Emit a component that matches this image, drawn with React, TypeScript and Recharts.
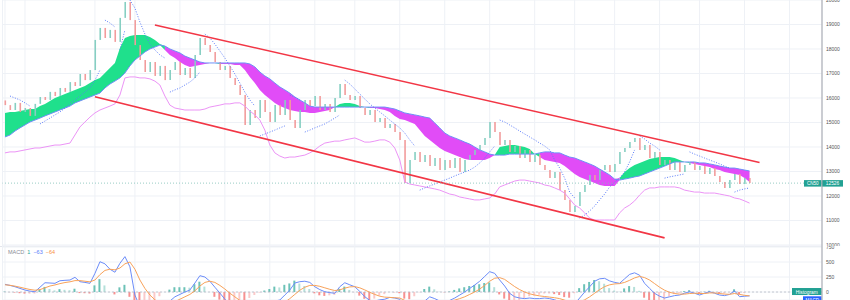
import React from 'react';
import { ComposedChart, Bar, Line, Area, XAxis, YAxis, CartesianGrid, ReferenceLine, Cell } from 'recharts';

// ---------- price pane data (one value per session, left to right) ----------
const closes = [
  15710, 15510, 15800, 15430, 15590, 15270, 15760, 16040, 15920, 16250,
  16080, 16410, 16250, 16650, 16490, 16980, 16730, 17140, 18370, 18860,
  18450, 18780, 18290, 19270, 19920, 19180, 18160, 17550, 17060, 17470,
  16900, 17310, 16730, 17140, 17470, 16940, 17220, 16820, 17760, 18450,
  18160, 17880, 17470, 17140, 17310, 16820, 16530, 16120, 14900, 15510,
  15180, 15920, 15430, 15020, 15710, 15310, 15920, 15100, 14780, 15510,
  15920, 15670, 16080, 15510, 15760, 15430, 16000, 16570, 16120, 15920,
  16080, 15590, 15310, 15510, 15020, 15180, 14780, 14940, 14610, 14290,
  12530, 13470, 13800, 13390, 13670, 13220, 13550, 13060, 13470, 13140,
  13550, 12980, 13470, 13670, 13880, 14080, 14370, 15020, 14610, 14080,
  14290, 13800, 14040, 13550, 13880, 13390, 13670, 13270, 13060, 12730,
  12980, 12240, 11840, 11350, 11590, 12160, 12450, 12860, 12650, 13060,
  13270, 12980, 13310, 13800, 13960, 14200, 14370, 13880, 14080, 13550,
  13800, 13270, 13470, 13060, 13390, 12980, 13270, 13390, 13060, 13220,
  12900, 13140, 12820, 12570, 12330, 12650, 12900, 12490, 12730, 12526,
];
const firstOpen = 15900;

const cloudA = [
  15390, 15430, 15430, 15470, 15510, 15550, 15550, 15670, 15760, 15880,
  16000, 16080, 16160, 16240, 16330, 16410, 16490, 16610, 16730, 16820,
  17020, 17220, 17430, 18040, 18450, 18530, 18570, 18570, 18570, 18490,
  18370, 18200, 17960, 17760, 17630, 17470, 17350, 17270, 17310, 17350,
  17390, 17430, 17430, 17390, 17390, 17390, 17350, 17350, 17140, 16860,
  16610, 16330, 16120, 15960, 15800, 15670, 15590, 15510, 15470, 15430,
  15430, 15390, 15390, 15430, 15470, 15510, 15630, 15760, 15800, 15800,
  15760, 15670, 15630, 15590, 15590, 15550, 15510, 15430, 15270, 15140,
  15100, 15020, 14940, 14690, 14450, 14290, 14120, 13960, 13840, 13760,
  13670, 13590, 13510, 13470, 13470, 13470, 13470, 13550, 13670, 14000,
  14040, 14080, 14080, 14040, 14000, 13920, 13710, 13590, 13470, 13430,
  13390, 13350, 13220, 13060, 12900, 12780, 12690, 12610, 12530, 12450,
  12410, 12410, 12410, 12730, 12980, 13140, 13270, 13350, 13430, 13510,
  13550, 13590, 13590, 13590, 13550, 13470, 13390, 13350, 13310, 13270,
  13220, 13180, 13100, 13060, 12980, 12940, 12900, 12860, 12730, 12570,
];

const cloudB = [
  14410, 14490, 14650, 14780, 14900, 15020, 15100, 15180, 15270, 15350,
  15430, 15510, 15590, 15670, 15800, 15880, 15960, 16040, 16120, 16200,
  16410, 16570, 16690, 16820, 17020, 17310, 17550, 17710, 17880, 18000,
  18080, 18160, 18120, 18000, 17920, 17840, 17710, 17630, 17550, 17470,
  17430, 17430, 17430, 17430, 17430, 17430, 17430, 17430, 17430, 17390,
  17270, 17060, 16900, 16780, 16610, 16450, 16330, 16200, 16040, 15920,
  15800, 15670, 15630, 15630, 15630, 15630, 15630, 15630, 15630, 15630,
  15630, 15630, 15630, 15630, 15630, 15630, 15630, 15590, 15550, 15470,
  15390, 15350, 15310, 15270, 15220, 15180, 14980, 14780, 14570, 14450,
  14370, 14290, 14200, 14120, 14000, 13880, 13800, 13710, 13670, 13670,
  13670, 13710, 13710, 13710, 13710, 13710, 13710, 13760, 13800, 13800,
  13760, 13760, 13670, 13590, 13550, 13470, 13390, 13310, 13220, 13100,
  12980, 12860, 12690, 12650, 12690, 12730, 12780, 12820, 12900, 12980,
  13060, 13140, 13220, 13310, 13390, 13390, 13390, 13390, 13390, 13350,
  13350, 13310, 13270, 13220, 13180, 13140, 13140, 13100, 13060, 13020,
];

const lowerBand = [
  13760, 13800, 13800, 13840, 13880, 13920, 13960, 13960, 14000, 14040,
  14080, 14080, 14120, 14160, 14490, 14820, 15020, 15220, 15390, 15510,
  15590, 15670, 15760, 16120, 16820, 16860, 16860, 16820, 16820, 16780,
  16690, 16530, 16080, 15710, 15590, 15550, 15510, 15510, 15510, 15510,
  15550, 15630, 15670, 15710, 15760, 15760, 15800, 15800, 15670, 15470,
  15310, 15100, 14690, 14080, 13760, 13630, 13550, 13590, 13590, 13630,
  13670, 13760, 13880, 14040, 14160, 14200, 14240, 14240, 14290, 14330,
  14370, 14290, 14200, 14200, 14240, 14290, 14290, 14200, 13960, 13470,
  12570, 12490, 12450, 12410, 12370, 12330, 12290, 12240, 12160, 12080,
  12040, 11960, 11920, 11880, 11840, 11840, 11880, 11920, 12080, 12370,
  12450, 12530, 12610, 12650, 12650, 12610, 12570, 12530, 12450, 12410,
  12330, 12240, 12120, 11880, 11630, 11510, 11310, 11100, 11020, 11020,
  11020, 11020, 11020, 11310, 11510, 11630, 11800, 12040, 12240, 12330,
  12330, 12370, 12370, 12370, 12370, 12330, 12240, 12200, 12160, 12160,
  12120, 12120, 12120, 12080, 12040, 12000, 11920, 11880, 11800, 11710,
];

// parabolic SAR runs: [first session index, values]
const sarAboveRuns: [number, number[]][] = [
  [1, [16080, 16000, 15920, 15800, 15670]],
  [20, [19180, 19060, 18900]],
  [25, [20000, 19670, 19100, 18610, 18200, 17960, 17760, 17630]],
  [40, [18610, 18450, 18200, 17920, 17630, 17310, 16980, 16610, 16240, 15920, 15670]],
  [57, [16120, 16040, 15920]],
  [68, [16730, 16570, 16370, 16160, 15960, 15760, 15590, 15430, 15270, 15100, 14940, 14780, 14570, 14290, 14040]],
  [99, [15100, 15020, 14900, 14780, 14650, 14530, 14410, 14290, 14160, 14040, 13880, 13470, 13140, 12730, 12160, 11920]],
  [127, [14450, 14330, 14160, 14040, 13880]],
  [137, [13800, 13710, 13630, 13550, 13470, 13390, 13310, 13220, 13140]],
];
const sarBelowRuns: [number, number[]][] = [
  [7, [14940, 15060, 15180, 15310, 15430, 15590, 15760, 15920, 16080, 16240, 16410, 16730, 17140]],
  [23, [17960, 18780]],
  [33, [16240, 16330, 16410, 16530, 16650, 16820, 17060]],
  [51, [14450, 14530, 14610, 14690, 14780, 14860]],
  [60, [14610, 14690, 14780, 14860, 14940, 15060, 15180, 15310]],
  [83, [12240, 12330, 12410, 12490, 12570, 12650, 12730, 12820, 12900, 12980, 13060, 13180, 13350, 13550, 13800, 14040]],
  [115, [11100, 11220, 11390, 11590, 11840, 12080, 12370, 12570, 12730, 12980, 13390, 13880]],
  [132, [12730, 12780, 12820, 12860, 12900]],
  [146, [12160, 12240, 12290, 12330]],
];

// channel lines: [session index, price]
const channelTop: [number, number][] = [[30, 18980], [151, 13370]];
const channelBottom: [number, number][] = [[18, 16050], [132, 10290]];

const lastPrice = 12526;
const symbol = 'CN50';

// ---------- MACD pane data ----------
const macdLine = [
  128, 110, 88, 60, 33, 15, 5, 80, 155, 150,
  145, 188, 195, 200, 245, 172, 160, 145, 311, 505,
  470, 380, 330, 478, 590, 420, -50, -250, -300, -300,
  -280, -250, -200, -150, -80, -40, 0, 33, 150, 272,
  250, 180, 80, -17, -120, -200, -250, -280, -350, -350,
  -330, -300, -260, -220, -150, -133, -50, 33, 150, 172,
  180, 160, 88, 40, 5, -10, -22, 88, 155, 120,
  88, 10, -78, -140, -150, -130, -120, -90, -100, -120,
  -250, -300, -280, -220, -150, -80, -110, -150, -160, -140,
  -100, -50, 0, 60, 117, 180, 260, 339, 311, 200,
  100, -22, -80, -100, -110, -100, -110, -110, -100, -110,
  -130, -160, -220, -260, -200, -100, 0, 88, 180, 220,
  228, 185, 160, 145, 220, 294, 320, 280, 145, 60,
  -22, -70, -100, -80, -60, -50, -20, 5, -20, -50,
  -20, 5, -20, -50, -60, -40, 20, -78, -70, -63,
];
const signalLine = [
  120, 112, 98, 80, 60, 42, 30, 40, 70, 100,
  118, 140, 158, 170, 190, 190, 180, 170, 200, 290,
  360, 380, 370, 400, 470, 500, 380, 200, 60, -50,
  -130, -180, -200, -190, -160, -120, -80, -40, 20, 100,
  160, 180, 160, 110, 50, -20, -80, -140, -200, -250,
  -280, -290, -285, -270, -240, -210, -170, -110, -40, 30,
  80, 110, 110, 95, 70, 45, 25, 35, 65, 85,
  90, 70, 35, -5, -40, -70, -85, -90, -95, -100,
  -140, -180, -210, -215, -200, -170, -155, -155, -155, -150,
  -135, -110, -80, -40, 0, 50, 110, 180, 230, 240,
  210, 150, 90, 40, 0, -30, -50, -65, -75, -85,
  -95, -110, -135, -165, -180, -165, -130, -80, -20, 40,
  90, 120, 135, 140, 160, 195, 235, 260, 240, 200,
  140, 80, 30, -5, -25, -35, -35, -25, -20, -25,
  -25, -15, -15, -25, -35, -38, -25, -40, -55, -64,
];
const histogram = [
  8, -2, -10, -20, -27, -27, -25, 40, 85, 50,
  27, 48, 37, 30, 55, -18, -20, -25, 111, 215,
  110, 0, -40, 78, 120, -80, -430, -450, -360, -250,
  -150, -70, 0, 40, 80, 80, 80, 73, 130, 172,
  90, 0, -80, -127, -170, -180, -170, -140, -150, -100,
  -50, -10, 25, 50, 90, 77, 120, 143, 190, 142,
  100, 50, -22, -55, -65, -55, -47, 53, 90, 35,
  -2, -60, -113, -135, -110, -60, -35, 0, -5, -20,
  -110, -120, -70, -5, 50, 90, 45, 5, -5, 10,
  35, 60, 80, 100, 117, 130, 150, 159, 81, -40,
  -110, -172, -170, -140, -110, -70, -60, -45, -25, -25,
  -35, -50, -85, -95, -20, 65, 130, 168, 200, 180,
  138, 65, 25, 5, 60, 99, 85, 20, -95, -140,
  -162, -150, -130, -75, -35, -15, 15, 30, 0, -25,
  5, 20, -5, -25, -25, -2, 45, -38, -15, 1,
];

// ---------- axis ticks ----------
const priceTicks = [10000, 11000, 12000, 13000, 14000, 15000, 16000, 17000, 18000, 19000, 20000];
const macdTicks = [0, 250, 500, 750];
const gridSessions = [0, 4, 18, 26, 35, 44, 53, 62, 70, 79, 88, 97, 106, 114, 122, 131, 139, 148, 157];
const TOTAL_SLOTS = 164;

// ---------- build tables ----------
const fill = (runs: [number, number[]][]) => {
  const out: (number | null)[] = new Array(TOTAL_SLOTS).fill(null);
  runs.forEach(([s, vals]) => vals.forEach((v, k) => { out[s + k] = v; }));
  return out;
};
const sarAbove = fill(sarAboveRuns);
const sarBelow = fill(sarBelowRuns);
const fromPoints = (pts: [number, number][]) => {
  const out: (number | null)[] = new Array(TOTAL_SLOTS).fill(null);
  pts.forEach(([i, v]) => { out[i] = v; });
  return out;
};
const topLine = fromPoints(channelTop);
const botLine = fromPoints(channelBottom);

const n = closes.length;
const greenAt = (i: number) => cloudA[i] >= cloudB[i];

const priceRows = Array.from({ length: TOTAL_SLOTS }, (_, i) => {
  const has = i < n;
  const open = i === 0 ? firstOpen : closes[i - 1];
  const close = closes[i];
  const g = has && (greenAt(i) || (i > 0 && greenAt(i - 1)));
  const m = has && (!greenAt(i) || (i > 0 && !greenAt(i - 1)));
  const lo = has ? Math.min(cloudA[i], cloudB[i]) : 0;
  const hi = has ? Math.max(cloudA[i], cloudB[i]) : 0;
  return {
    i,
    body: has ? [Math.min(open, close), Math.max(open, close)] : null,
    up: has ? close >= open : true,
    green: g ? [lo, hi] : null,
    magenta: m ? [lo, hi] : null,
    spanB: has ? cloudB[i] : null,
    band: has ? lowerBand[i] : null,
    sarA: sarAbove[i],
    sarB: sarBelow[i],
    top: topLine[i],
    bot: botLine[i],
  };
});

const macdRows = Array.from({ length: TOTAL_SLOTS }, (_, i) => {
  const has = i < n;
  const h = has ? histogram[i] : null;
  const prev = i > 0 ? histogram[i - 1] : 0;
  let color = '#26a69a';
  if (h !== null) {
    if (h >= 0) color = h >= prev ? '#6cc2b7' : '#b5e0da';
    else color = h < prev ? '#f79191' : '#fbcaca';
  }
  return {
    i,
    hist: h,
    color,
    macd: has ? macdLine[i] : null,
    signal: has ? signalLine[i] : null,
  };
});

const FONT = '"Liberation Sans", Arial, sans-serif';
const tickStyle = { fontSize: 5, fill: '#555', fontFamily: FONT };

const PriceTag = (props: any) => {
  const vb = props.viewBox || {};
  const right = (vb.x || 0) + (vb.width || 0);
  const y = vb.y || 0;
  return (
    <g>
      <rect x={right - 18} y={y - 3} width={17.5} height={6.5} fill="#22a193" />
      <text x={right - 9.25} y={y + 1.9} fontSize={4.6} fill="#fff" textAnchor="middle" fontFamily={FONT}>{symbol}</text>
      <rect x={right} y={y - 3} width={21} height={6.5} fill="#22a193" />
      <text x={right + 10.5} y={y + 1.9} fontSize={4.8} fill="#fff" textAnchor="middle" fontFamily={FONT}>{String(lastPrice)}</text>
    </g>
  );
};

const HistTag = (props: any) => {
  const vb = props.viewBox || {};
  const right = (vb.x || 0) + (vb.width || 0);
  const y = vb.y || 0;
  return (
    <g>
      <rect x={right - 30} y={y - 4} width={29.5} height={7} fill="#22a193" />
      <text x={right - 15.25} y={y + 1.6} fontSize={4.8} fill="#fff" textAnchor="middle" fontFamily={FONT}>Histogram</text>
    </g>
  );
};

const MacdTag = (props: any) => {
  const vb = props.viewBox || {};
  const right = (vb.x || 0) + (vb.width || 0);
  const y = (vb.y || 0) + 4;
  return (
    <g>
      <rect x={right - 19} y={y - 3.5} width={18.5} height={7} fill="#2962ff" />
      <text x={right - 9.75} y={y + 1.8} fontSize={4.6} fill="#fff" textAnchor="middle" fontFamily={FONT}>MACD</text>
    </g>
  );
};

export default function App() {
  return (
    <div style={{ position: 'absolute', left: 0, top: 0, width: 850, height: 300, background: '#fff', overflow: 'hidden', fontFamily: FONT }}>
      <div style={{ position: 'absolute', left: 0, top: 0 }}>
        <ComposedChart width={850} height={246} data={priceRows} margin={{ top: 0, right: 0, left: 2.5, bottom: 0 }}>
          <CartesianGrid stroke="#eef1f6" strokeWidth={1} />
          <XAxis dataKey="i" hide ticks={gridSessions} interval={0} />
          <YAxis orientation="right" width={28} domain={[9959, 20000]} allowDataOverflow ticks={priceTicks} interval={0}
            tick={tickStyle} tickLine={false} tickSize={0} tickMargin={4} axisLine={{ stroke: '#9ea1a9' }} />
          <Area dataKey="green" stroke="none" fill="#1fe08c" fillOpacity={1} isAnimationActive={false} connectNulls={false} activeDot={false} />
          <Area dataKey="magenta" stroke="none" fill="#e14cf7" fillOpacity={1} isAnimationActive={false} connectNulls={false} activeDot={false} />
          <Line dataKey="spanB" stroke="#6f8ff7" strokeWidth={1} dot={false} isAnimationActive={false} />
          <Line dataKey="band" stroke="#ec94f6" strokeWidth={1} dot={false} isAnimationActive={false} />
          <Bar dataKey="body" barSize={1.6} isAnimationActive={false}>
            {priceRows.map((r) => (
              <Cell key={r.i} fill={r.up ? '#86cfc2' : '#f29c9c'} />
            ))}
          </Bar>
          <Line dataKey="sarA" stroke="#5b7cfa" strokeWidth={1} strokeDasharray="1 1.6" dot={false} isAnimationActive={false} connectNulls={false} />
          <Line dataKey="sarB" stroke="#5b7cfa" strokeWidth={1} strokeDasharray="1 1.6" dot={false} isAnimationActive={false} connectNulls={false} />
          <Line dataKey="top" stroke="#f23645" strokeWidth={1.6} dot={false} connectNulls isAnimationActive={false} />
          <Line dataKey="bot" stroke="#f23645" strokeWidth={1.6} dot={false} connectNulls isAnimationActive={false} />
          <ReferenceLine y={lastPrice} stroke="#7fbfb5" strokeDasharray="1 2" strokeWidth={0.8} label={<PriceTag />} />
        </ComposedChart>
      </div>
      <div style={{ position: 'absolute', left: 0, top: 246, borderTop: '1px solid #e3e6ec', width: 822 }} />
      <div style={{ position: 'absolute', left: 0, top: 246 }}>
        <ComposedChart width={850} height={54} data={macdRows} margin={{ top: 0, right: 0, left: 2.5, bottom: 0 }}>
          <CartesianGrid stroke="#eef1f6" strokeWidth={1} />
          <XAxis dataKey="i" hide ticks={gridSessions} interval={0} />
          <YAxis orientation="right" width={28} domain={[-133, 767]} allowDataOverflow ticks={macdTicks} interval={0}
            tick={tickStyle} tickLine={false} tickSize={0} tickMargin={4} axisLine={{ stroke: '#9ea1a9' }} />
          <ReferenceLine y={0} stroke="#b8bcc6" strokeDasharray="2 2" strokeWidth={0.8} label={<HistTag />} />
          <Bar dataKey="hist" barSize={2} isAnimationActive={false}>
            {macdRows.map((r) => (
              <Cell key={r.i} fill={r.color} />
            ))}
          </Bar>
          <Line dataKey="macd" stroke="#6b8cf9" strokeWidth={1} dot={false} isAnimationActive={false} />
          <Line dataKey="signal" stroke="#f8a25a" strokeWidth={1} dot={false} isAnimationActive={false} />
          <ReferenceLine y={macdLine[macdLine.length - 1]} stroke="none" label={<MacdTag />} />
        </ComposedChart>
      </div>
      <div style={{ position: 'absolute', left: 8, top: 249, fontSize: 5.5, lineHeight: '7px', whiteSpace: 'pre', fontFamily: FONT }}>
        <span style={{ color: '#8a8d96' }}>MACD</span>
        <span style={{ color: '#26a69a' }}>{'  1'}</span>
        <span style={{ color: '#5b7cfa' }}>{'  −63'}</span>
        <span style={{ color: '#f7913f' }}>{'  −64'}</span>
      </div>
    </div>
  );
}
